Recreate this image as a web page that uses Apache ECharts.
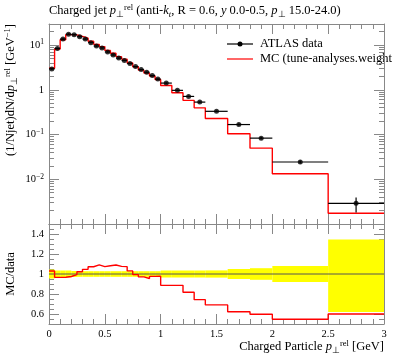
<!DOCTYPE html>
<html><head><meta charset="utf-8">
<script src="https://cdn.jsdelivr.net/npm/echarts@6/dist/echarts.min.js"></script>
<style>html,body{margin:0;padding:0;background:#fff}#c{width:397px;height:358px}</style>
</head><body><div id="c"></div>
<script>
// bin edges (GeV)
const edges = [0,0.05,0.1,0.15,0.2,0.25,0.3,0.35,0.4,0.45,0.5,0.55,0.6,0.65,0.7,0.75,0.8,0.85,0.9,0.95,1.0,1.1,1.2,1.3,1.4,1.6,1.8,2.0,2.5,3.0];
// ATLAS data values
const dataVals = [2.93,8.4,13.6,17.5,17.0,15.3,13.6,11.3,9.5,8.6,7.0,6.0,5.1,4.5,3.85,3.3,2.83,2.47,2.08,1.73,1.41,0.97,0.71,0.53,0.33,0.167,0.083,0.0243,0.0029];
// MC values
const mcVals = [3.02,8.12,13.15,17.06,16.9,15.64,14.23,12.12,10.36,9.23,7.58,6.54,5.49,4.83,3.97,3.28,2.75,2.36,2.03,1.69,1.25,0.86,0.58,0.394,0.228,0.104,0.0496,0.0133,0.00174];
// relative data uncertainties
const errUp = [0.045,0.035,0.035,0.035,0.03,0.028,0.028,0.028,0.028,0.028,0.028,0.028,0.028,0.028,0.028,0.028,0.028,0.028,0.028,0.028,0.035,0.035,0.035,0.035,0.036,0.05,0.058,0.08,0.345];
const errDown = [0.045,0.035,0.035,0.035,0.03,0.028,0.028,0.028,0.028,0.028,0.028,0.028,0.028,0.028,0.028,0.028,0.028,0.028,0.028,0.028,0.035,0.035,0.035,0.035,0.036,0.05,0.058,0.08,0.38];
// tick values
const xMajor = 0.5;
const logMinorTicks = [0.002,0.003,0.004,0.005,0.006,0.007,0.008,0.009,0.02,0.03,0.04,0.05,0.06,0.07,0.08,0.09,0.2,0.3,0.4,0.5,0.6,0.7,0.8,0.9,2,3,4,5,6,7,8,9,20];
const ratioMajorTicks = [0.6,0.8,1.0,1.2,1.4];
const ratioMinorTicks = [0.55,0.65,0.7,0.75,0.85,0.9,0.95,1.05,1.1,1.15,1.25,1.3,1.35,1.45];

const FONT = 'Liberation Serif';
const GRAY = '#888';
const LOGMIN = 0.001, LOGMAX = 29.5;
const nb = dataVals.length;
const centers = dataVals.map((v,i)=>(edges[i]+edges[i+1])/2);
const mcStep = edges.map((e,i)=>[e, mcVals[Math.min(i,nb-1)]]);
const ratioStep = edges.map((e,i)=>{const j=Math.min(i,nb-1); return [e, mcVals[j]/dataVals[j]];});
const errData = dataVals.map((v,i)=>[centers[i], v, edges[i], edges[i+1], v*(1-errDown[i]), v*(1+errUp[i])]);
const bandData = dataVals.map((v,i)=>[edges[i], edges[i+1], 1-errDown[i], 1+errUp[i]]);
const ptData = dataVals.map((v,i)=>[centers[i], v]);

const chart = echarts.init(document.getElementById('c'));

function xAx(grid, pos, labels) {
  return {type:'value', gridIndex:grid, position:pos, min:0, max:3, interval:xMajor,
    axisLine:{show:true, onZero:false, lineStyle:{color:GRAY, width:1}},
    axisTick:{show:true, inside:true, length:10, lineStyle:{color:GRAY}},
    minorTick:{show:true, splitNumber:5, length:5, lineStyle:{color:GRAY}},
    splitLine:{show:false},
    axisLabel:{show:labels, margin:5, fontFamily:FONT, fontSize:10.5, color:'#000'}};
}
const richLab = {b:{fontFamily:FONT, fontSize:10.5, color:'#000', lineHeight:13},
                 s:{fontFamily:FONT, fontSize:7.5, color:'#000', lineHeight:13, verticalAlign:'top'}};
function logFmt(v){
  const l = Math.log10(v), e = Math.round(l);
  if (Math.abs(l-e) > 0.01 || e < -2) return '';
  if (e === 0) return '{b|1}';
  return '{b|10}{s|' + (e<0 ? '\u2212' + (-e) : e) + '}';
}
function logAx(pos, labels){
  return {type:'log', logBase:10, gridIndex:0, position:pos, min:LOGMIN, max:LOGMAX,
    axisLine:{show:true, onZero:false, lineStyle:{color:GRAY}},
    axisTick:{show:true, inside:true, length:10, lineStyle:{color:GRAY}},
    splitLine:{show:false}, minorTick:{show:false},
    axisLabel:{show:labels, margin:5, formatter:logFmt, rich:richLab}};
}
function logMinorAx(pos){
  return {type:'value', gridIndex:0, position:pos, min:Math.log10(LOGMIN), max:Math.log10(LOGMAX),
    axisLine:{show:false, onZero:false}, splitLine:{show:false}, axisLabel:{show:false},
    axisTick:{show:true, inside:true, length:5, lineStyle:{color:GRAY}, customValues:logMinorTicks.map(v=>Math.log10(v))}};
}
function ratioAx(pos, labels){
  return {type:'value', gridIndex:1, position:pos, min:0.5, max:1.5,
    axisLine:{show:true, onZero:false, lineStyle:{color:GRAY}},
    axisTick:{show:true, inside:true, length:10, lineStyle:{color:GRAY}, customValues:ratioMajorTicks},
    splitLine:{show:false},
    axisLabel:{show:labels, margin:5, fontFamily:FONT, fontSize:10.5, color:'#000', customValues:ratioMajorTicks}};
}
function ratioMinorAx(pos){
  return {type:'value', gridIndex:1, position:pos, min:0.5, max:1.5,
    axisLine:{show:false, onZero:false}, splitLine:{show:false}, axisLabel:{show:false},
    axisTick:{show:true, inside:true, length:5, lineStyle:{color:GRAY}, customValues:ratioMinorTicks}};
}

const FS = 12.5;
const richT = {
  n:{fontFamily:FONT, fontSize:FS, color:'#000', lineHeight:16},
  i:{fontFamily:FONT, fontSize:FS, fontStyle:'italic', color:'#000', lineHeight:16},
  sup:{fontFamily:FONT, fontSize:8.5, color:'#000', lineHeight:16, verticalAlign:'top'},
  sub:{fontFamily:FONT, fontSize:8.5, color:'#000', lineHeight:16, verticalAlign:'bottom'},
  subi:{fontFamily:FONT, fontSize:8.5, fontStyle:'italic', color:'#000', lineHeight:16, verticalAlign:'bottom'}
};

const option = {
  animation:false,
  backgroundColor:'#fff',
  grid:[{left:49, top:24, width:335, height:200}, {left:49, top:224, width:335, height:100}],
  xAxis:[xAx(0,'bottom',false), xAx(0,'top',false), xAx(1,'bottom',true), xAx(1,'top',false)],
  yAxis:[logAx('left',true), logAx('right',false), logMinorAx('left'), logMinorAx('right'),
         ratioAx('left',true), ratioAx('right',false), ratioMinorAx('left'), ratioMinorAx('right')],
  series:[
    {type:'custom', xAxisIndex:2, yAxisIndex:4, data:bandData, encode:{x:[0,1], y:[2,3]}, z:1,
     renderItem:(params, api)=>{
       const p1 = api.coord([api.value(0), api.value(3)]);
       const p2 = api.coord([api.value(1), api.value(2)]);
       return {type:'rect', shape:{x:p1[0], y:p1[1], width:p2[0]-p1[0], height:p2[1]-p1[1]}, style:{fill:'#ffff00'}};
     }},
    {type:'line', xAxisIndex:2, yAxisIndex:4, data:[[0,1],[3,1]], symbol:'none', z:2,
     lineStyle:{color:'#555', width:1}},
    {type:'line', xAxisIndex:2, yAxisIndex:4, data:ratioStep, step:'end', symbol:'none', z:3,
     lineStyle:{color:'#ff0000', width:1.4}},
    {type:'line', xAxisIndex:0, yAxisIndex:0, data:mcStep, step:'end', symbol:'none', z:3,
     lineStyle:{color:'#ff0000', width:1.4}},
    {type:'custom', xAxisIndex:0, yAxisIndex:0, data:errData, encode:{x:[0,2,3], y:[1,4,5]}, z:4,
     renderItem:(params, api)=>{
       const xc=api.value(0), y=api.value(1);
       const a = api.coord([api.value(2), y]), b = api.coord([api.value(3), y]);
       const c = api.coord([xc, api.value(4)]), d = api.coord([xc, api.value(5)]);
       return {type:'group', children:[
         {type:'line', shape:{x1:a[0], y1:a[1], x2:b[0], y2:b[1]}, style:{stroke:'#000', lineWidth:1.2}},
         {type:'line', shape:{x1:c[0], y1:c[1], x2:d[0], y2:d[1]}, style:{stroke:'#000', lineWidth:1.2}}
       ]};
     }},
    {type:'scatter', xAxisIndex:0, yAxisIndex:0, data:ptData, symbol:'circle', symbolSize:5, z:5,
     itemStyle:{color:'#000'}}
  ],
  graphic:[
    {type:'text', x:49, y:11, style:{text:'{n|Charged jet }{i|p}{sub|\u22a5}{sup|rel}{n| (anti-}{i|k}{subi|t}{n|, R = 0.6, }{i|y}{n| 0.0-0.5, }{i|p}{sub|\u22a5}{n| 15.0-24.0)}', rich:richT, align:'left', verticalAlign:'middle'}},
    {type:'text', x:11, y:24, rotation:Math.PI/2, style:{text:'{n|(1/Njet)dN/d}{i|p}{sub|\u22a5}{sup|rel}{n| [GeV}{sup|\u22121}{n|]}', rich:richT, align:'right', verticalAlign:'middle'}},
    {type:'text', x:11, y:274, rotation:Math.PI/2, style:{text:'{n|MC/data}', rich:richT, align:'center', verticalAlign:'middle'}},
    {type:'text', x:384, y:347, style:{text:'{n|Charged Particle }{i|p}{sub|\u22a5}{sup|rel}{n| [GeV]}', rich:richT, align:'right', verticalAlign:'middle'}},
    {type:'line', shape:{x1:227, y1:44, x2:253, y2:44}, style:{stroke:'#000', lineWidth:1.2}},
    {type:'circle', shape:{cx:240, cy:44, r:2.5}, style:{fill:'#000'}},
    {type:'text', x:260, y:44, style:{text:'ATLAS data', fontFamily:FONT, fontSize:12.5, fill:'#000', verticalAlign:'middle'}},
    {type:'line', shape:{x1:227, y1:59, x2:253, y2:59}, style:{stroke:'#ff0000', lineWidth:1.2}},
    {type:'text', x:260, y:59, style:{text:'MC (tune-analyses.weight', fontFamily:FONT, fontSize:12.5, fill:'#000', verticalAlign:'middle'}}
  ]
};
chart.setOption(option);
</script></body></html>
